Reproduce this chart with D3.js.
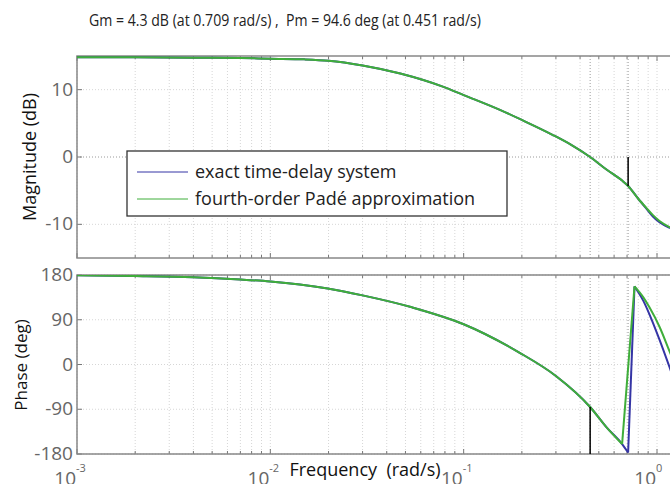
<!DOCTYPE html>
<html lang="en">
<head>
<meta charset="UTF-8" />
<script src="https://d3js.org/d3.v7.min.js"></script>
<title>Bode margin</title>
<style>body{margin:0;background:#fff;}</style>
</head>
<body>
<script type="text/javascript">
var width = 670;
var height = 484;

// magnitude samples (rad/s, dB)
var freq = [0.001, 0.002, 0.004, 0.007, 0.01, 0.015, 0.02, 0.03, 0.047, 0.078, 0.1, 0.154, 0.2, 0.288, 0.36, 0.451, 0.55, 0.66, 0.709, 0.8, 0.883, 0.95, 1.03, 1.16, 1.3];
var magPade  = [14.8, 14.8, 14.75, 14.7, 14.6, 14.5, 14.3, 13.6, 12.4, 10.45, 9.2, 7.0, 5.5, 3.3, 1.8, 0, -1.9, -3.5, -4.3, -6.2, -7.6, -8.6, -9.5, -10.4, -11.0];
var magExact = [14.8, 14.8, 14.75, 14.7, 14.6, 14.5, 14.3, 13.6, 12.4, 10.45, 9.2, 7.0, 5.5, 3.3, 1.8, 0, -1.9, -3.5, -4.3, -6.2, -7.7, -8.8, -9.7, -10.5, -11.0];

// phase samples (rad/s, deg)
var phaseFreqExact = [0.001, 0.002, 0.004, 0.007, 0.01, 0.0142, 0.0198, 0.03, 0.054, 0.1, 0.194, 0.3, 0.451, 0.55, 0.66, 0.709, 0.765, 0.85, 0.914, 1.03, 1.16, 1.3];
var phaseExact     = [179.5, 178, 175.5, 171, 167, 161, 153, 139, 115, 81, 24, -23, -85.4, -127, -160, -177, 157, 128, 101, 50, -5, -60];
var phaseFreqPade  = [0.001, 0.002, 0.004, 0.007, 0.01, 0.0142, 0.0198, 0.03, 0.054, 0.1, 0.194, 0.3, 0.451, 0.55, 0.66, 0.765, 0.85, 0.914, 1.03, 1.16, 1.3];
var phasePade      = [179.5, 178, 175.5, 171, 167, 161, 153, 139, 115, 81, 24, -23, -85.4, -127, -160, 157, 135, 115, 76, 27, -20];

var magTicks = [10, 0, -10];
var phaseTicks = [180, 90, 0, -90, -180];
var decades = [1e-3, 1e-2, 1e-1, 1];
var decadeExp = ["-3", "-2", "-1", "0"];
var gmFreq = 0.709, gmValue = -4.3;
var pmFreq = 0.451, pmValue = -85.4;

var blue = "#3535a5", green = "#3fae3a";
var left = 77, right = 700;

var svg = d3.select("body").append("svg").attr("width", width).attr("height", height)
  .style("font-family", "'Open Sans', sans-serif");

var x = d3.scaleLog().domain([1e-3, 1]).range([left, 657]);
var yMag = d3.scaleLinear().domain([-15, 15]).range([258, 56]);
var yPh = d3.scaleLinear().domain([-180, 180]).range([454, 275]);

var minor = [];
decades.forEach(function(d){ for (var k = 1; k <= 9; k++) minor.push(d * k); });
minor = minor.filter(function(v){ return x(v) <= right; });

function panel(id, y, ticks, zeroDark) {
  var y0 = y.range()[0], y1 = y.range()[1];
  var g = svg.append("g");
  svg.append("clipPath").attr("id", id).append("rect")
    .attr("x", left).attr("y", y1).attr("width", right - left).attr("height", y0 - y1);
  // grid
  g.selectAll(".vg").data(minor).enter().append("line")
    .attr("x1", function(d){ return x(d); }).attr("x2", function(d){ return x(d); })
    .attr("y1", y1).attr("y2", y0)
    .attr("stroke", "#d6d6d6").attr("stroke-width", 1).attr("stroke-dasharray", "1,2");
  g.selectAll(".mg").data([pmFreq, gmFreq]).enter().append("line")
    .attr("x1", function(d){ return x(d); }).attr("x2", function(d){ return x(d); })
    .attr("y1", y1).attr("y2", y0)
    .attr("stroke", "#9a9a9a").attr("stroke-width", 1).attr("stroke-dasharray", "1,2");
  g.selectAll(".hg").data(ticks).enter().append("line")
    .attr("x1", left).attr("x2", right)
    .attr("y1", function(d){ return y(d); }).attr("y2", function(d){ return y(d); })
    .attr("stroke", function(d){ return (d === 0 && zeroDark) ? "#9a9a9a" : "#d6d6d6"; })
    .attr("stroke-width", 1).attr("stroke-dasharray", "1,2");
  // tick marks inside
  [y0, y1].forEach(function(edge){
    var dir = edge === y0 ? -1 : 1;
    g.selectAll(null).data(minor).enter().append("line")
      .attr("x1", function(d){ return x(d); }).attr("x2", function(d){ return x(d); })
      .attr("y1", edge).attr("y2", function(d){ return edge + dir * (decades.indexOf(d) >= 0 ? 5 : 3); })
      .attr("stroke", "#777").attr("stroke-width", 1);
  });
  g.selectAll(".yt").data(ticks).enter().append("line")
    .attr("x1", left).attr("x2", left + 5)
    .attr("y1", function(d){ return y(d); }).attr("y2", function(d){ return y(d); })
    .attr("stroke", "#777");
  g.selectAll(".yl").data(ticks).enter().append("text")
    .attr("x", left - 4).attr("y", function(d){ return y(d) + 6; })
    .attr("text-anchor", "end").attr("font-size", 19).attr("fill", "#666")
    .text(function(d){ return d; });
  // border
  g.append("rect").attr("x", left).attr("y", y1).attr("width", right - left + 10).attr("height", y0 - y1)
    .attr("fill", "none").attr("stroke", "#888").attr("stroke-width", 1.5);
  return svg.append("g").attr("clip-path", "url(#" + id + ")");
}

var magG = panel("clipMag", yMag, magTicks, true);
var phG = panel("clipPh", yPh, phaseTicks, false);

var magLine = d3.line().x(function(d){ return x(d[0]); }).y(function(d){ return yMag(d[1]); }).curve(d3.curveMonotoneX);
var phLine = d3.line().x(function(d){ return x(d[0]); }).y(function(d){ return yPh(d[1]); }).curve(d3.curveMonotoneX);
var phStraight = d3.line().x(function(d){ return x(d[0]); }).y(function(d){ return yPh(d[1]); });

magG.append("path").datum(d3.zip(freq, magExact)).attr("d", magLine)
  .attr("fill", "none").attr("stroke", blue).attr("stroke-width", 2);
magG.append("path").datum(d3.zip(freq, magPade)).attr("d", magLine)
  .attr("fill", "none").attr("stroke", green).attr("stroke-width", 2);
magG.append("line").attr("x1", x(gmFreq)).attr("x2", x(gmFreq))
  .attr("y1", yMag(0)).attr("y2", yMag(gmValue)).attr("stroke", "#000").attr("stroke-width", 1.5);

// phase wraps from -180 to +180: keep the jump straight
function drawPhase(f, v, color) {
  var pts = d3.zip(f, v);
  var k = 0;
  for (var i = 1; i < v.length; i++) if (v[i] - v[i-1] > 180) k = i;
  phG.append("path").datum(pts.slice(0, k)).attr("d", phLine)
    .attr("fill", "none").attr("stroke", color).attr("stroke-width", 2);
  phG.append("path").datum(pts.slice(k - 1, k + 1)).attr("d", phStraight)
    .attr("fill", "none").attr("stroke", color).attr("stroke-width", 2);
  phG.append("path").datum(pts.slice(k)).attr("d", phLine)
    .attr("fill", "none").attr("stroke", color).attr("stroke-width", 2);
}
drawPhase(phaseFreqExact, phaseExact, blue);
drawPhase(phaseFreqPade, phasePade, green);
phG.append("line").attr("x1", x(pmFreq)).attr("x2", x(pmFreq))
  .attr("y1", yPh(-180)).attr("y2", yPh(pmValue)).attr("stroke", "#000").attr("stroke-width", 1.5);

// legend
var lg = svg.append("g");
lg.append("rect").attr("x", 127).attr("y", 151).attr("width", 380).attr("height", 65)
  .attr("fill", "#fff").attr("stroke", "#333").attr("stroke-width", 1.3);
[["exact time-delay system", blue], ["fourth-order Pad\u00e9 approximation", green]].forEach(function(d, i){
  var yy = 172 + i * 27;
  lg.append("line").attr("x1", 137).attr("x2", 188).attr("y1", yy).attr("y2", yy).attr("stroke", d[1]).attr("stroke-width", 1);
  lg.append("text").attr("x", 195).attr("y", yy + 6).attr("font-size", 18).attr("fill", "#222").text(d[0]);
});

// x tick labels
decades.forEach(function(d, i){
  svg.append("text").attr("x", x(d) - 1).attr("y", 485).attr("font-size", 19).attr("fill", "#666").attr("text-anchor", "end").text("10");
  svg.append("text").attr("x", x(d) - 1).attr("y", 472).attr("font-size", 11).attr("fill", "#666").text(decadeExp[i]);
});

svg.append("text").attr("x", 365).attr("y", 476).attr("text-anchor", "middle").attr("font-size", 18).attr("fill", "#111")
  .attr("xml:space", "preserve").text("Frequency  (rad/s)");
svg.append("text").attr("transform", "translate(36,157) rotate(-90)").attr("text-anchor", "middle")
  .attr("font-size", 18).attr("fill", "#111").text("Magnitude (dB)");
svg.append("text").attr("transform", "translate(27,365) rotate(-90)").attr("text-anchor", "middle")
  .attr("font-size", 17).attr("fill", "#111").text("Phase (deg)");
svg.append("text").attr("x", 285).attr("y", 26).attr("text-anchor", "middle").attr("font-size", 17).attr("fill", "#222")
  .attr("textLength", 392).attr("lengthAdjust", "spacingAndGlyphs")
  .attr("xml:space", "preserve").text("Gm = 4.3 dB (at 0.709 rad/s) ,  Pm = 94.6 deg (at 0.451 rad/s)");
</script>
</body>
</html>
